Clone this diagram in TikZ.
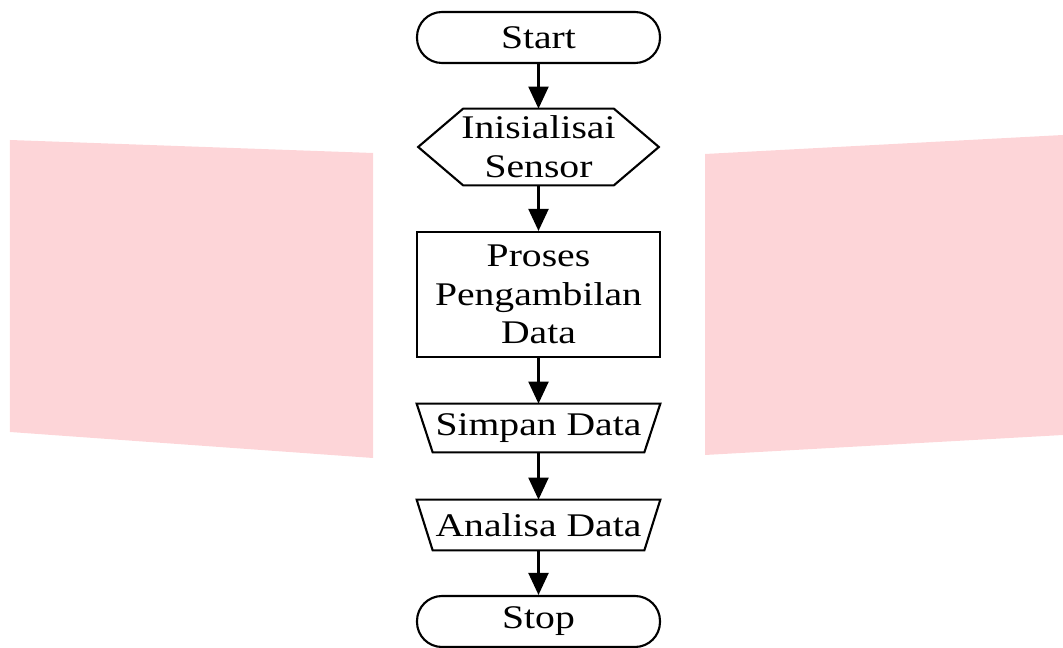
\documentclass[tikz,border=0pt]{standalone}
\usepackage{fontspec}
\setmainfont{Liberation Serif}[FakeStretch=1.2]
\usetikzlibrary{arrows.meta}
\definecolor{pinkbg}{RGB}{253,213,216}
\tikzset{
  box/.style={draw, line width=1.2pt, minimum width=4.86cm, align=center, inner sep=0pt},
  term/.style={box, rounded corners=0.5cm, minimum height=1.02cm},
  flat/.style={align=center, minimum width=4.86cm, inner sep=0pt},
  arr/.style={->, line width=1.2pt},
}
\begin{document}
\begin{tikzpicture}[font=\fontsize{18.8}{22}\selectfont, >={Triangle[length=0.44cm,width=0.4cm]}]
            \useasboundingbox (0,0) rectangle (21.26,12.96);
            % pink blocks behind
            \fill[pinkbg] (0.2,10.16) -- (7.46,9.9) -- (7.46,3.8) -- (0.2,4.32) -- cycle;
            \fill[pinkbg] (14.1,9.88) -- (21.26,10.26) -- (21.26,4.26) -- (14.1,3.86) -- cycle;
            % steps
            \node[term] (start) at (10.77,12.21) {Start};
            \node[flat, minimum width=4.8cm, minimum height=1.52cm] (init) at (10.77,10.02) {Inisialisai\\Sensor};
            \draw[line width=1.2pt] (init.west) -- ([xshift=0.9cm]init.north west) -- ([xshift=-0.9cm]init.north east)
                -- (init.east) -- ([xshift=-0.9cm]init.south east) -- ([xshift=0.9cm]init.south west) -- cycle;
            \node[box, minimum height=2.5cm] (proses) at (10.77,7.07) {Proses\\Pengambilan\\Data};
            \node[flat, minimum height=0.96cm] (simpan) at (10.77,4.40) {Simpan Data};
            \draw[line width=1.2pt] (simpan.north west) -- (simpan.north east) -- ([xshift=-0.32cm]simpan.south east)
                -- ([xshift=0.32cm]simpan.south west) -- cycle;
            \node[flat, minimum height=1cm] (analisa) at (10.77,2.46) {Analisa Data};
            \draw[line width=1.2pt] (analisa.north west) -- (analisa.north east) -- ([xshift=-0.32cm]analisa.south east)
                -- ([xshift=0.32cm]analisa.south west) -- cycle;
            \node[term] (stop) at (10.77,0.53) {Stop};
            % arrows
            \draw[arr] (start) -- (init);
            \draw[arr] (init) -- (proses);
            \draw[arr] (proses) -- (simpan);
            \draw[arr] (simpan) -- (analisa);
            \draw[arr] (analisa) -- (stop);
        \end{tikzpicture}
\end{document}
